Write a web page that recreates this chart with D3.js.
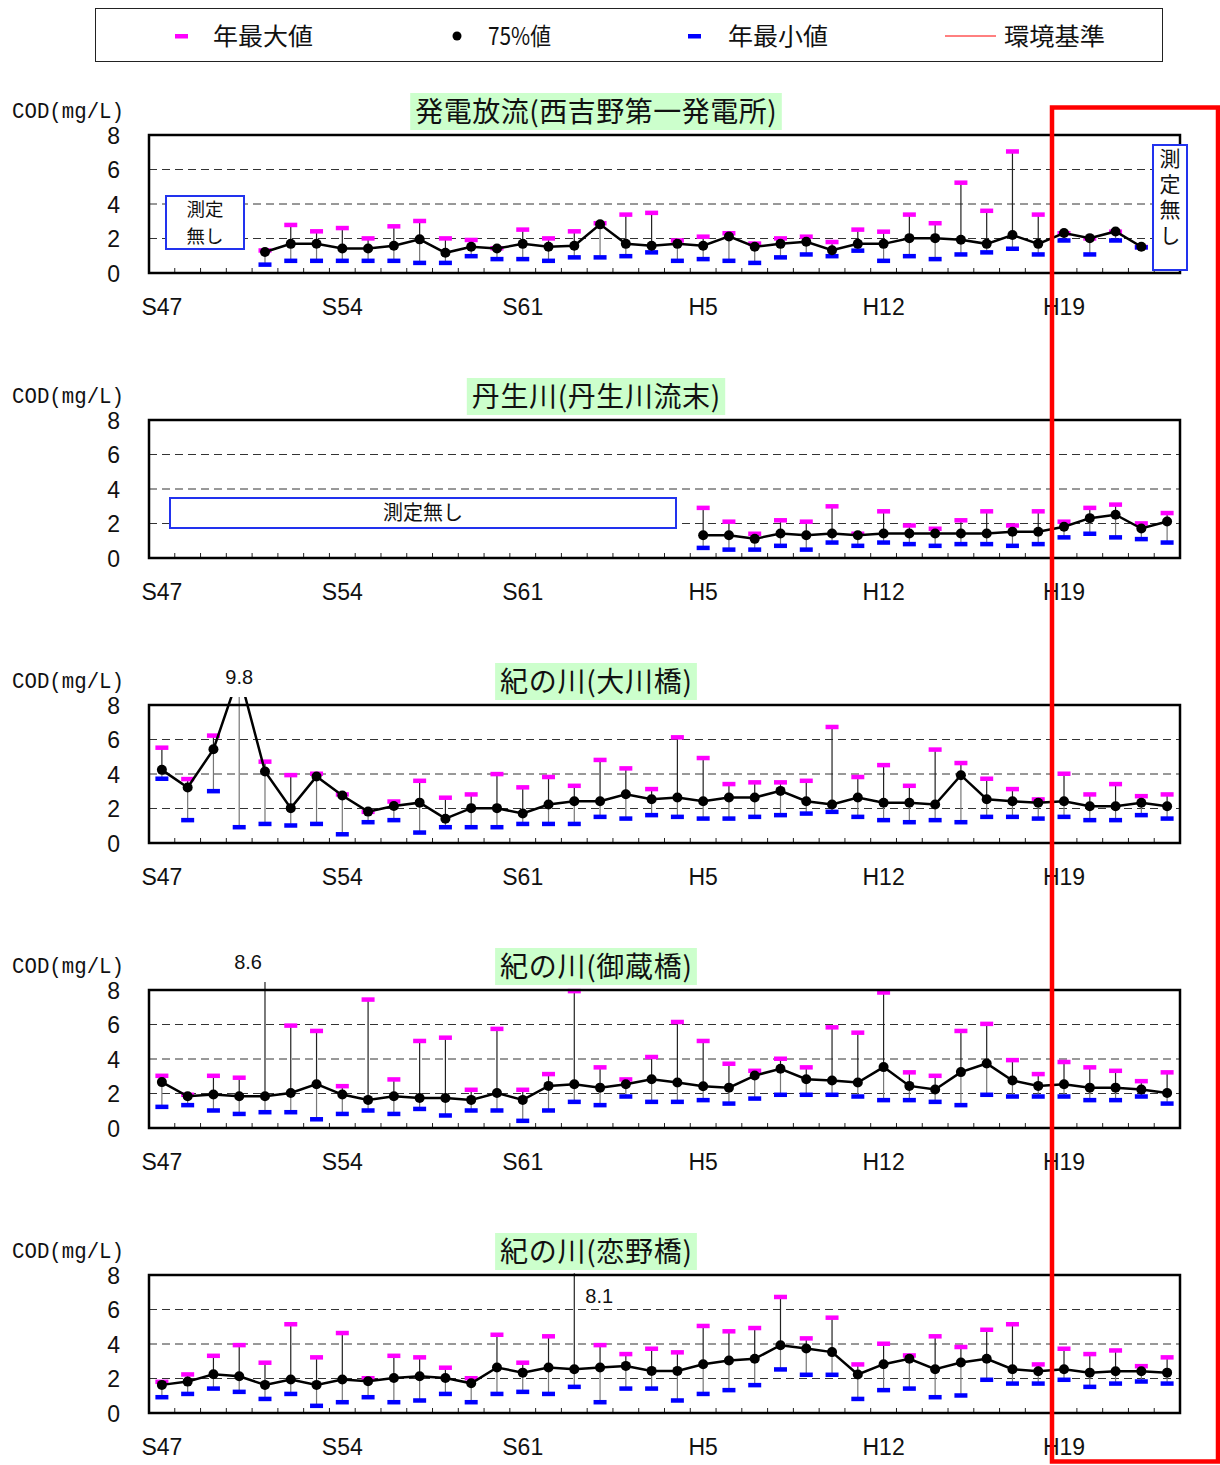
<!DOCTYPE html>
<html><head><meta charset="utf-8">
<script src="https://cdn.jsdelivr.net/npm/d3@7"></script>
<style>body{margin:0;background:#fff}svg{display:block}</style>
</head><body>
<svg id="c" width="1220" height="1465"></svg>
<script>
// ---- categories (years S47..H23) ----
const categories = ["S47","S48","S49","S50","S51","S52","S53","S54","S55","S56","S57","S58","S59","S60","S61","S62","S63",
  "H1","H2","H3","H4","H5","H6","H7","H8","H9","H10","H11","H12","H13","H14","H15","H16","H17","H18","H19","H20","H21","H22","H23"];
const tickLabels = ["S47","S54","S61","H5","H12","H19"];
const yTicks = [0,2,4,6,8];
const gridValues = [2,4,6];
const titles = ["発電放流(西吉野第一発電所)","丹生川(丹生川流末)","紀の川(大川橋)","紀の川(御蔵橋)","紀の川(恋野橋)"];
const legendLabels = ["年最大値","75%値","年最小値","環境基準"];
const noData = "測定無し";

// ---- panel 1: 発電放流 ----
const p1_75  = [null,null,null,null,1.22,1.69,1.70,1.42,1.42,1.58,1.95,1.17,1.52,1.42,1.69,1.52,1.58,2.82,1.69,1.58,1.69,1.58,2.12,1.52,1.69,1.81,1.32,1.69,1.69,2.02,2.02,1.93,1.69,2.20,1.69,2.32,2.02,2.41,1.52,null];
const p1_max = [null,null,null,null,1.32,2.80,2.43,2.62,2.02,2.72,3.03,2.02,1.93,1.45,2.53,2.02,2.43,2.90,3.40,3.50,1.90,2.12,2.32,1.72,2.02,2.12,1.81,2.53,2.41,3.40,2.90,5.25,3.62,7.06,3.40,2.32,2.02,2.41,1.52,null];
const p1_min = [null,null,null,null,0.50,0.72,0.72,0.72,0.72,0.72,0.60,0.60,0.99,0.82,0.82,0.72,0.92,0.92,0.99,1.21,0.72,0.82,0.72,0.60,0.92,1.09,0.99,1.31,0.72,0.99,0.82,1.09,1.21,1.42,1.09,1.90,1.09,1.90,1.50,null];
// ---- panel 2: 丹生川 ----
const p2_75  = [null,null,null,null,null,null,null,null,null,null,null,null,null,null,null,null,null,null,null,null,null,1.32,1.32,1.11,1.42,1.32,1.42,1.32,1.42,1.42,1.42,1.42,1.42,1.52,1.52,1.81,2.31,2.51,1.71,2.12];
const p2_max = [null,null,null,null,null,null,null,null,null,null,null,null,null,null,null,null,null,null,null,null,null,2.92,2.12,1.42,2.20,2.12,3.01,1.42,2.72,1.90,1.71,2.20,2.72,1.90,2.72,2.12,2.92,3.11,2.02,2.62];
const p2_min = [null,null,null,null,null,null,null,null,null,null,null,null,null,null,null,null,null,null,null,null,null,0.60,0.50,0.50,0.72,0.50,0.91,0.72,0.91,0.82,0.72,0.82,0.82,0.72,0.82,1.21,1.42,1.21,1.11,0.91];
// ---- panel 3: 大川橋 ----
const p3_75  = [4.24,3.22,5.43,9.8,4.15,2.02,3.86,2.75,1.82,2.15,2.34,1.41,2.02,2.02,1.71,2.23,2.42,2.42,2.83,2.54,2.64,2.42,2.64,2.64,3.02,2.42,2.23,2.64,2.33,2.33,2.23,3.93,2.54,2.42,2.33,2.42,2.13,2.13,2.33,2.13];
const p3_max = [5.54,3.72,6.24,9.8,4.73,3.95,4.03,2.83,1.82,2.42,3.62,2.64,2.83,4.01,3.24,3.84,3.33,4.83,4.34,3.14,6.14,4.94,3.43,3.53,3.53,3.62,6.74,3.84,4.53,3.33,5.43,4.65,3.74,3.14,2.54,4.03,2.83,3.43,2.73,2.83];
const p3_min = [3.74,1.34,3.02,0.93,1.12,1.03,1.12,0.52,1.22,1.34,0.62,0.93,0.93,0.93,1.12,1.12,1.12,1.53,1.43,1.63,1.53,1.43,1.43,1.53,1.63,1.72,1.82,1.53,1.34,1.22,1.34,1.22,1.53,1.53,1.43,1.53,1.34,1.34,1.63,1.43];
// ---- panel 4: 御蔵橋 ----
const p4_75  = [2.66,1.84,1.94,1.84,1.84,2.03,2.54,1.94,1.63,1.84,1.74,1.74,1.63,2.03,1.63,2.44,2.54,2.34,2.54,2.83,2.64,2.42,2.34,3.04,3.43,2.83,2.75,2.64,3.53,2.44,2.23,3.24,3.74,2.75,2.44,2.54,2.34,2.34,2.23,2.03];
const p4_max = [3.04,1.94,3.04,2.93,8.6,5.95,5.64,2.44,7.46,2.83,5.06,5.25,2.23,5.76,2.23,3.14,7.95,3.53,2.83,4.13,6.16,5.06,3.74,3.33,4.03,3.53,5.85,5.54,7.87,3.24,3.04,5.64,6.05,3.95,3.14,3.84,3.53,3.33,2.73,3.24];
const p4_min = [1.24,1.34,1.03,0.83,0.93,0.93,0.52,0.83,1.03,0.83,1.12,0.74,1.03,1.03,0.43,1.03,1.53,1.34,1.84,1.53,1.53,1.63,1.43,1.72,1.94,1.94,1.94,1.84,1.63,1.63,1.53,1.34,1.94,1.84,1.84,1.84,1.63,1.63,1.84,1.43];
// ---- panel 5: 恋野橋 ----
const p5_75  = [1.63,1.82,2.25,2.13,1.63,1.94,1.63,1.94,1.84,2.03,2.13,2.03,1.72,2.64,2.34,2.64,2.54,2.64,2.73,2.44,2.44,2.83,3.04,3.14,3.93,3.74,3.53,2.23,2.83,3.14,2.54,2.93,3.14,2.54,2.42,2.54,2.34,2.42,2.42,2.34];
const p5_max = [1.82,2.25,3.33,3.95,2.93,5.16,3.24,4.65,2.03,3.33,3.24,2.64,2.03,4.55,2.93,4.46,8.1,3.95,3.43,3.74,3.53,5.06,4.75,4.94,6.74,4.34,5.54,2.83,4.03,3.35,4.46,3.84,4.84,5.16,2.83,3.74,3.43,3.64,2.73,3.24];
const p5_min = [0.93,1.12,1.43,1.24,0.83,1.12,0.43,0.64,0.93,0.64,0.74,1.12,0.64,1.12,1.24,1.12,1.53,0.64,1.43,1.43,0.74,1.12,1.34,1.63,2.54,2.23,2.23,0.83,1.34,1.43,0.93,1.03,1.94,1.72,1.72,1.94,1.53,1.72,1.84,1.72];

// out-of-range value annotations: [panel, category, text]
const annotations = [[2,"S50","9.8"],[3,"S51","8.6"],[4,"S63","8.1"]];

const series = [[p1_75,p1_max,p1_min],[p2_75,p2_max,p2_min],[p3_75,p3_max,p3_min],[p4_75,p4_max,p4_min],[p5_75,p5_max,p5_min]];

const JP = "'Noto Sans CJK JP','Noto Sans',sans-serif";
const NUM = "'Liberation Sans',Arial,sans-serif";
const PINK = "#ff00ff", BLUE = "#0000ff";

const svg = d3.select("#c");
const L = 149, R = 1180, PH = 138, STEP = 285, TOP0 = 135;
const x = d3.scaleBand().domain(categories).range([L, R]).padding(0);
const cx = c => x(c) + x.bandwidth()/2;

// legend
const lg = svg.append("g");
lg.append("rect").attr("x",95.5).attr("y",8.5).attr("width",1067).attr("height",53).attr("fill","#fff").attr("stroke","#222").attr("stroke-width",1);
const ly = 36;
lg.append("rect").attr("x",175).attr("y",ly-2).attr("width",13).attr("height",4.5).attr("fill",PINK);
lg.append("circle").attr("cx",457).attr("cy",ly).attr("r",4.5).attr("fill","#000");
lg.append("rect").attr("x",688).attr("y",ly-2).attr("width",13).attr("height",4.5).attr("fill",BLUE);
lg.append("line").attr("x1",945).attr("x2",996).attr("y1",ly).attr("y2",ly).attr("stroke","#ff0000").attr("stroke-width",1);
[[213,0,100],[488,1,63],[728,2,100],[1004,3,101]].forEach(([lx,i,w])=>{
  lg.append("text").attr("x",lx).attr("y",ly).attr("dy","0.36em").attr("font-family",JP).attr("font-size",24)
    .attr("textLength",w).attr("lengthAdjust","spacingAndGlyphs").attr("fill","#111").text(legendLabels[i]);
});

series.forEach((s, pi) => {
  const top = TOP0 + pi*STEP, bot = top + PH;
  const y = d3.scaleLinear().domain([0,8]).range([bot, top]);
  const g = svg.append("g");
  const [v75, vmax, vmin] = s;
  const data = categories.map((c,i)=>({c, v:v75[i], mx:vmax[i], mn:vmin[i]}));

  g.append("clipPath").attr("id","clip"+pi).append("rect").attr("x",L).attr("y",top-8).attr("width",R-L).attr("height",PH+8);

  // gridlines
  g.selectAll(".grid").data(gridValues).join("line")
    .attr("x1",L).attr("x2",R).attr("y1",d=>y(d)).attr("y2",d=>y(d))
    .attr("stroke","#333").attr("stroke-width",1).attr("stroke-dasharray","8,5");

  // inner bottom ticks at category boundaries
  g.selectAll(".tk").data(categories.slice(1)).join("line")
    .attr("x1",d=>x(d)).attr("x2",d=>x(d)).attr("y1",bot).attr("y2",bot-5)
    .attr("stroke","#222").attr("stroke-width",1);

  // x labels
  g.selectAll(".xl").data(tickLabels).join("text")
    .attr("x",d=>cx(d)).attr("y",bot+42).attr("text-anchor","middle")
    .attr("font-family",NUM).attr("font-size",23).attr("fill","#111").text(d=>d);

  // y axis labels
  const ya = g.append("g").attr("transform",`translate(120,1)`)
    .call(d3.axisLeft(y).tickValues(yTicks).tickSize(0).tickPadding(0).tickFormat(d3.format("d")));
  ya.select(".domain").remove();
  ya.selectAll("text").attr("font-family",NUM).attr("font-size",23).attr("fill","#111");

  // COD label
  g.append("text").attr("x",12).attr("y",top-25).attr("dy","0.36em")
    .attr("font-family","'Liberation Mono','DejaVu Sans Mono',monospace").attr("font-size",22)
    .attr("textLength",112).attr("lengthAdjust","spacingAndGlyphs").attr("fill","#111").text("COD(mg/L)");

  // title with green background
  const t = titles[pi];
  const nParen = (t.match(/[()]/g)||[]).length;
  const tLen = (t.length - nParen)*28.3 + nParen*11;
  const tt = g.append("text").attr("x",596).attr("y",top-23.5).attr("dy","0.36em").attr("text-anchor","middle")
    .attr("font-family",JP).attr("font-size",28).attr("textLength",tLen).attr("lengthAdjust","spacing")
    .attr("fill","#111").text(t);
  g.insert("rect", () => tt.node()).attr("x",596-tLen/2-5).attr("y",top-42).attr("width",tLen+10).attr("height",37).attr("fill","#ccffcc");

  const pg = g.append("g").attr("clip-path",`url(#clip${pi})`);
  const pts = data.filter(d=>d.v!=null);
  // whiskers
  pg.selectAll(".wu").data(pts).join("line")
    .attr("x1",d=>cx(d.c)).attr("x2",d=>cx(d.c)).attr("y1",d=>y(d.v)).attr("y2",d=>y(d.mx))
    .attr("stroke","#222").attr("stroke-width",1.2);
  pg.selectAll(".wl").data(pts).join("line")
    .attr("x1",d=>cx(d.c)).attr("x2",d=>cx(d.c)).attr("y1",d=>y(d.mn)).attr("y2",d=>y(d.v))
    .attr("stroke","#777").attr("stroke-width",1.2);
  // caps
  pg.selectAll(".cmax").data(pts.filter(d=>d.mx<=8.05)).join("rect")
    .attr("x",d=>cx(d.c)-6.5).attr("y",d=>y(d.mx)-2).attr("width",13).attr("height",4.5).attr("fill",PINK);
  pg.selectAll(".cmin").data(pts).join("rect")
    .attr("x",d=>cx(d.c)-6.5).attr("y",d=>y(d.mn)-2).attr("width",13).attr("height",4.5).attr("fill",BLUE);
  // 75% line
  pg.append("path").datum(data)
    .attr("d", d3.line().defined(d=>d.v!=null).x(d=>cx(d.c)).y(d=>y(d.v)))
    .attr("fill","none").attr("stroke","#000").attr("stroke-width",2.5);
  pg.selectAll(".dot").data(pts.filter(d=>d.v<=8)).join("circle")
    .attr("cx",d=>cx(d.c)).attr("cy",d=>y(d.v)).attr("r",5).attr("fill","#000");

  // frame
  g.append("rect").attr("x",L).attr("y",top).attr("width",R-L).attr("height",PH)
    .attr("fill","none").attr("stroke","#000").attr("stroke-width",2.5);

  // annotations
  annotations.filter(a=>a[0]===pi).forEach(a=>{
    const ax = cx(a[1]);
    let tx = ax, anchor = "middle", ty = top-28;
    if (pi===3) { tx = ax-3; anchor = "end"; }
    if (pi===4) { tx = ax+11; anchor = "start"; ty = top+21; }
    g.append("text").attr("x",tx).attr("y",ty).attr("dy","0.36em").attr("text-anchor",anchor)
      .attr("font-family",NUM).attr("font-size",20).attr("fill","#111").text(a[2]);
  });
});

// "測定無し" boxes
const nb = "#2233ee";
// panel 1 left (two lines)
svg.append("rect").attr("x",166).attr("y",196).attr("width",78).attr("height",53).attr("fill","#fff").attr("stroke",nb).attr("stroke-width",2);
svg.append("text").attr("x",205).attr("y",209).attr("dy","0.36em").attr("text-anchor","middle").attr("font-family",JP).attr("font-size",18.5).attr("fill","#111").text(noData.slice(0,2));
svg.append("text").attr("x",205).attr("y",236.5).attr("dy","0.36em").attr("text-anchor","middle").attr("font-family",JP).attr("font-size",18.5).attr("fill","#111").text(noData.slice(2));
// panel 1 right (vertical writing)
svg.append("rect").attr("x",1153).attr("y",145).attr("width",34).attr("height",125).attr("fill","#fff").attr("stroke",nb).attr("stroke-width",2);
svg.append("text").attr("x",1170).attr("y",148).attr("writing-mode","vertical-rl").attr("glyph-orientation-vertical",0)
  .attr("letter-spacing",4.5).attr("font-family",JP).attr("font-size",21).attr("fill","#111").text(noData);
// panel 2
svg.append("rect").attr("x",170).attr("y",498).attr("width",506).attr("height",30).attr("fill","#fff").attr("stroke",nb).attr("stroke-width",2);
svg.append("text").attr("x",423).attr("y",513).attr("dy","0.36em").attr("text-anchor","middle").attr("font-family",JP).attr("font-size",20).attr("fill","#111").text(noData);

// red highlight rectangle
svg.append("rect").attr("x",1052).attr("y",107.5).attr("width",166).attr("height",1354).attr("fill","none").attr("stroke","#ff0000").attr("stroke-width",4.5);
</script>
</body></html>
